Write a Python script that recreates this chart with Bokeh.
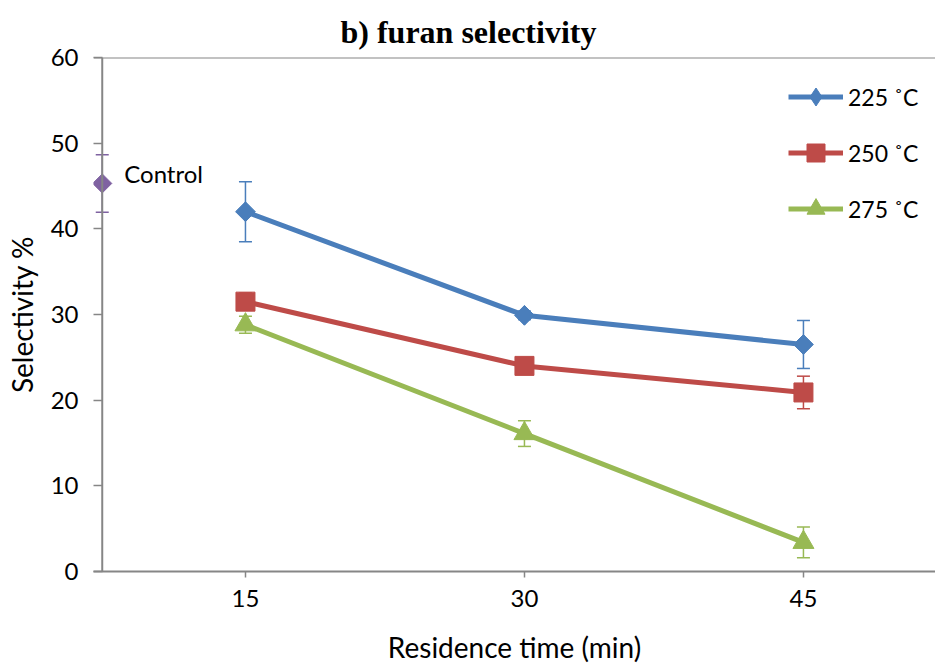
import math
from bokeh.plotting import figure
from bokeh.models import (ColumnDataSource, Whisker, TeeHead, Span, Label, Legend,
                          LegendItem, FixedTicker)
from bokeh.embed import file_html
from bokeh.resources import INLINE

# ---- data ----
times = [15, 30, 45]
sel_225 = [42.0, 29.9, 26.5]
err_225 = [3.5, 0.5, 2.8]
sel_250 = [31.5, 24.0, 20.9]
err_250 = [1.0, 0.5, 1.9]
sel_275 = [28.8, 16.1, 3.4]
err_275 = [1.0, 1.5, 1.8]
control_x = [7.3]
control_y = [45.3]
control_err = [3.35]
series_labels = ["225 ˚C", "250 ˚C", "275 ˚C"]
y_ticks = [0, 10, 20, 30, 40, 50, 60]

FONT = "Lato"
AXIS_GRAY = "#868686"
X_START = 6.83   # frame left, a little left of the value axis (which sits at the control x)

p = figure(width=935, height=666, output_backend="svg", toolbar_location=None,
           x_range=(X_START, 52.1), y_range=(0, 60),
           min_border_left=93, min_border_right=0, min_border_top=57,
           min_border_bottom=95)
p.outline_line_color = None
p.grid.visible = False
p.background_fill_color = "white"

p.title.text = "b) furan selectivity"
p.title.text_font = "Liberation Serif"
p.title.text_font_style = "bold"
p.title.text_font_size = "32px"
p.title.text_color = "black"
p.title.align = "left"
p.title.offset = 247
p.title.standoff = 16

# axes
for ax in (p.xaxis[0], p.yaxis[0]):
    ax.axis_line_color = AXIS_GRAY
    ax.axis_line_width = 2
    ax.major_tick_line_color = AXIS_GRAY
    ax.major_tick_line_width = 1.5
    ax.minor_tick_line_color = None
    ax.major_label_text_font = FONT
    ax.major_label_text_font_size = "24px"
    ax.major_label_text_color = "black"
    ax.axis_label_text_font = FONT
    ax.axis_label_text_font_size = "28px"
    ax.axis_label_text_font_style = "normal"
    ax.axis_label_text_color = "black"

p.xaxis.ticker = FixedTicker(ticks=times)
p.xaxis.major_tick_in = 0
p.xaxis.major_tick_out = 6
p.xaxis.major_label_standoff = 12
p.xaxis.axis_label = "Residence time (min)"
p.xaxis.axis_label_standoff = 20

# value axis: labels from the frame-edge axis, ticks reach inward to the axis line
p.yaxis.ticker = FixedTicker(ticks=y_ticks)
p.yaxis.axis_line_color = None
p.yaxis.major_tick_out = 0
p.yaxis.major_tick_in = 9
p.yaxis.major_label_standoff = 15
p.yaxis.axis_label = "Selectivity %"
p.yaxis.axis_label_standoff = 9

p.add_layout(Span(location=control_x[0], dimension="height", line_color=AXIS_GRAY, line_width=2))
p.add_layout(Span(location=60, dimension="width", line_color=AXIS_GRAY, line_width=2))

colors = ["#4A7EBB", "#BE4B48", "#98B954"]
series = [sel_225, sel_250, sel_275]
errs = [err_225, err_250, err_275]

items = []
for lbl, ys, es, c, mk in zip(series_labels, series, errs, colors,
                              ["diamond", "square", "triangle"]):
    src = ColumnDataSource(dict(x=times, y=ys,
                                upper=[a + b for a, b in zip(ys, es)],
                                lower=[a - b for a, b in zip(ys, es)]))
    w = Whisker(base="x", upper="upper", lower="lower", source=src,
                line_color=c, line_width=1.5, level="underlay",
                upper_head=TeeHead(size=13, line_color=c, line_width=1.5),
                lower_head=TeeHead(size=13, line_color=c, line_width=1.5))
    p.add_layout(w)
    ln = p.line("x", "y", source=src, line_color=c, line_width=5)
    if mk == "diamond":
        # narrow diamond (hidden beneath the rotated square) provides the legend key
        sc = p.scatter("x", "y", source=src, marker="diamond", size=19,
                       fill_color=c, line_color=c)
        p.scatter("x", "y", source=src, marker="square", size=14,
                  angle=math.pi / 4, fill_color=c, line_color=c)
    elif mk == "square":
        sc = p.scatter("x", "y", source=src, marker="square", size=19,
                       fill_color=c, line_color=c)
    else:
        sc = p.scatter("x", "y", source=src, marker="triangle", size=21,
                       fill_color=c, line_color=c)
    items.append(LegendItem(label=lbl, renderers=[ln, sc]))

# control point
csrc = ColumnDataSource(dict(x=control_x, y=control_y,
                             upper=[a + b for a, b in zip(control_y, control_err)],
                             lower=[a - b for a, b in zip(control_y, control_err)]))
purple = "#7F62A1"
p.add_layout(Whisker(base="x", upper="upper", lower="lower", source=csrc,
                     line_color=purple, line_width=1.5, level="underlay",
                     upper_head=TeeHead(size=13, line_color=purple, line_width=1.5),
                     lower_head=TeeHead(size=13, line_color=purple, line_width=1.5)))
p.scatter("x", "y", source=csrc, marker="square", size=13.5, angle=math.pi / 4,
          fill_color=purple, line_color=purple)
p.add_layout(Label(x=control_x[0], y=control_y[0], text="Control", x_offset=22, y_offset=10,
                   text_font=FONT, text_font_size="24px", text_baseline="middle",
                   text_align="left", text_color="black"))

legend = Legend(items=items, location=(695, 340), orientation="vertical",
                glyph_width=55, glyph_height=45, spacing=11, padding=0, margin=0,
                label_standoff=5, label_text_font=FONT, label_text_font_size="23px",
                label_text_color="black", border_line_color=None,
                background_fill_alpha=0)
p.add_layout(legend)

open("out.html", "w").write(file_html(p, INLINE))
